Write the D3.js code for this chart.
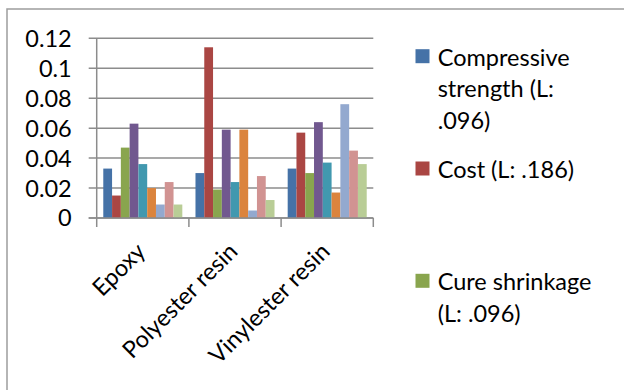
<!DOCTYPE html>
<html>
<head>
<meta charset="utf-8">
<script src="https://cdn.jsdelivr.net/npm/d3@7"></script>
<style>
  html, body { margin: 0; padding: 0; background: #fff; }
  svg { display: block; }
  text { font-family: Lato, "Open Sans", sans-serif; fill: #000; }
</style>
</head>
<body>
<svg id="chart" width="624" height="390"></svg>
<script>
const categories = ["Epoxy", "Polyester resin", "Vinylester resin"];
const seriesNames = [
  "Compressive strength (L: .096)",
  "Cost (L: .186)",
  "Cure shrinkage (L: .096)",
  "Series 4", "Series 5", "Series 6", "Series 7", "Series 8", "Series 9"
];
// only the legend entries that are visible in the chart
const legendShown = 3;
const seriesColors = ["#4572A7", "#AA4643", "#89A54E", "#71588F", "#4198AF", "#DB843D", "#93A9CF", "#D19392", "#B9CD96"];
// values[series][category]
const values = [
  [0.033, 0.030, 0.033],
  [0.015, 0.114, 0.057],
  [0.047, 0.019, 0.030],
  [0.063, 0.059, 0.064],
  [0.036, 0.024, 0.037],
  [0.020, 0.059, 0.017],
  [0.009, 0.005, 0.076],
  [0.024, 0.028, 0.045],
  [0.009, 0.012, 0.036]
];
const yTicks = [0, 0.02, 0.04, 0.06, 0.08, 0.1, 0.12];
const yTickLabels = ["0", "0.02", "0.04", "0.06", "0.08", "0.1", "0.12"];

(function () {
const svg = d3.select("#chart");
const pLeft = 96.7, pRight = 373.3, pTop = 38.3, pBottom = 218;
const gridColor = "#8c8c8c";
const fontSize = 23.5;

// outer frame
svg.append("rect").attr("x", 7).attr("y", 9).attr("width", 700).attr("height", 500)
  .attr("fill", "none").attr("stroke", "#9d9d9d").attr("stroke-width", 1.5);

const x0 = d3.scaleBand().domain(categories).range([pLeft, pRight]).paddingInner(0).paddingOuter(0);
const y = d3.scaleLinear().domain([0, 0.12]).range([pBottom, pTop]);
const nS = seriesNames.length;
const barW = x0.bandwidth() / (nS + 1.5);
const x1 = d3.scaleBand().domain(d3.range(nS)).range([barW * 0.75, barW * 0.75 + barW * nS]).padding(0);

// gridlines + y ticks
svg.append("g").selectAll("line").data(yTicks).join("line")
  .attr("x1", pLeft - 8).attr("x2", pRight)
  .attr("y1", d => y(d)).attr("y2", d => y(d))
  .attr("stroke", gridColor).attr("stroke-width", 1.5);

svg.append("g").selectAll("text").data(yTicks).join("text")
  .attr("x", pLeft - 25).attr("y", d => y(d)).attr("dy", "0.36em")
  .attr("text-anchor", "end").attr("font-size", fontSize)
  .text((d, i) => yTickLabels[i]);

// bars
const gCat = svg.append("g").selectAll("g").data(categories).join("g")
  .attr("transform", d => `translate(${x0(d)},0)`);
gCat.selectAll("rect").data((c, ci) => values.map((s, si) => ({ si, v: s[ci] }))).join("rect")
  .attr("x", d => x1(d.si)).attr("width", x1.bandwidth())
  .attr("y", d => y(d.v)).attr("height", d => y(0) - y(d.v))
  .attr("fill", d => seriesColors[d.si]);

// axes
svg.append("line").attr("x1", pLeft).attr("x2", pLeft).attr("y1", pTop).attr("y2", pBottom)
  .attr("stroke", gridColor).attr("stroke-width", 1.5);
svg.append("line").attr("x1", pLeft - 8).attr("x2", pRight).attr("y1", pBottom).attr("y2", pBottom)
  .attr("stroke", gridColor).attr("stroke-width", 1.5);
const bounds = categories.map(c => x0(c)).concat([pRight]);
svg.append("g").selectAll("line").data(bounds).join("line")
  .attr("x1", d => d).attr("x2", d => d).attr("y1", pBottom).attr("y2", pBottom + 9)
  .attr("stroke", gridColor).attr("stroke-width", 1.5);

// category labels
svg.append("g").selectAll("text").data(categories).join("text")
  .attr("transform", d => `translate(${x0(d) + x0.bandwidth() / 2 + 4},${pBottom + 35}) rotate(-45)`)
  .attr("text-anchor", "end").attr("font-size", fontSize)
  .text(d => d);

// legend
const legX = 415.5, legTextX = 437.7, lineH = 31.7, itemH = 112.3, firstBase = 65.7, maxW = 168;
seriesNames.slice(0, legendShown).forEach((name, i) => {
  const base = firstBase + i * itemH;
  svg.append("rect").attr("x", legX).attr("y", base - 16.5).attr("width", 14).attr("height", 14)
    .attr("fill", seriesColors[i]);
  const t = svg.append("text").attr("x", legTextX).attr("y", base).attr("font-size", fontSize);
  const words = name.split(" ");
  let line = [], tspan = t.append("tspan").attr("x", legTextX).attr("y", base), ln = 0;
  words.forEach(w => {
    line.push(w);
    tspan.text(line.join(" "));
    if (tspan.node().getComputedTextLength() > maxW && line.length > 1) {
      line.pop();
      tspan.text(line.join(" "));
      line = [w];
      ln++;
      tspan = t.append("tspan").attr("x", legTextX).attr("y", base + ln * lineH).text(w);
    }
  });
});
})();
</script>
</body>
</html>
